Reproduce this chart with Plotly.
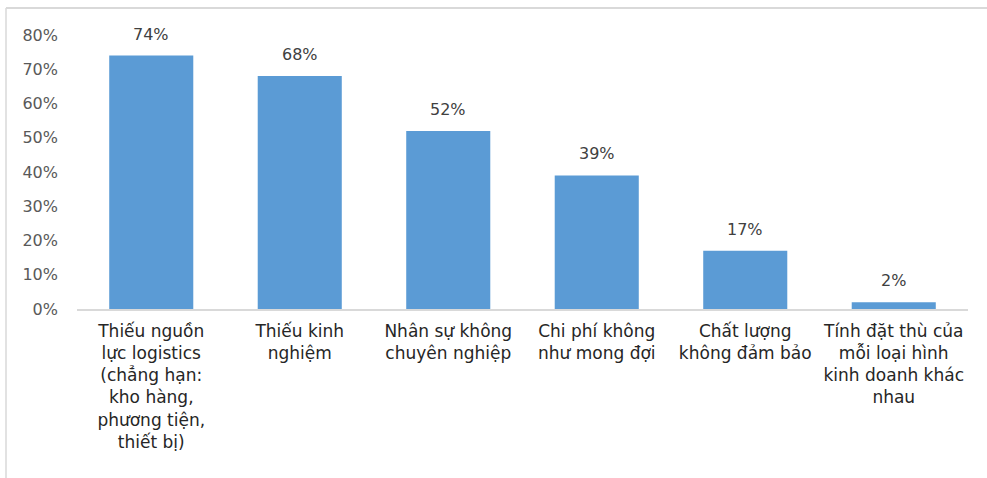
import plotly.graph_objects as go

categories = [
    "Thiếu nguồn<br>lực logistics<br>(chẳng hạn:<br>kho hàng,<br>phương tiện,<br>thiết bị)",
    "Thiếu kinh<br>nghiệm",
    "Nhân sự không<br>chuyên nghiệp",
    "Chi phí không<br>như mong đợi",
    "Chất lượng<br>không đảm bảo",
    "Tính đặt thù của<br>mỗi loại hình<br>kinh doanh khác<br>nhau",
]
values = [74, 68, 52, 39, 17, 2]
labels = ["74%", "68%", "52%", "39%", "17%", "2%"]
y_ticks = [0, 10, 20, 30, 40, 50, 60, 70, 80]
y_ticktext = ["0%", "10%", "20%", "30%", "40%", "50%", "60%", "70%", "80%"]

W, H = 987, 478
L, R, T, B = 77, 19, 35, 169
pw, ph = W - L - R, H - T - B

fig = go.Figure()
fig.add_trace(go.Bar(
    x=list(range(len(categories))), y=values,
    marker=dict(color="#5B9BD5", line=dict(width=0)),
    hoverinfo="skip",
))

for i, (v, t) in enumerate(zip(values, labels)):
    fig.add_annotation(x=i, y=v, text=t, showarrow=False, yanchor="bottom",
                       yshift=10, font=dict(family="DejaVu Sans", size=16, color="#404040"))

def px_x(p):
    return (p - L) / pw

def px_y(p):
    return (H - B - p) / ph

frame = "#d9d9d9"
fig.add_shape(type="line", xref="paper", yref="paper",
              x0=px_x(6), x1=px_x(990), y0=px_y(8), y1=px_y(8),
              line=dict(color=frame, width=2))
fig.add_shape(type="line", xref="paper", yref="paper",
              x0=px_x(6), x1=px_x(6), y0=px_y(8), y1=px_y(480),
              line=dict(color=frame, width=1.5))

fig.update_layout(
    width=W, height=H,
    margin=dict(l=L, r=R, t=T, b=B, autoexpand=False),
    paper_bgcolor="white", plot_bgcolor="white",
    bargap=0.434,
    showlegend=False,
    xaxis=dict(
        tickmode="array", tickvals=list(range(len(categories))), ticktext=categories,
        range=[-0.5, len(categories) - 0.5],
        showgrid=False, zeroline=False,
        showline=True, linecolor="#d9d9d9", linewidth=1.5,
        ticks="", tickangle=0, ticklabelstandoff=6,
        tickfont=dict(family="DejaVu Sans", size=17, color="#262626"),
    ),
    yaxis=dict(
        range=[0, 80], tickmode="array", tickvals=y_ticks, ticktext=y_ticktext,
        showgrid=False, zeroline=False, showline=False, ticks="",
        ticklabelstandoff=18,
        tickfont=dict(family="DejaVu Sans", size=16, color="#595959"),
    ),
)

fig.write_html("out.html", config={"displayModeBar": False},
               post_script="document.body.style.margin='0';document.body.style.overflow='hidden';")
